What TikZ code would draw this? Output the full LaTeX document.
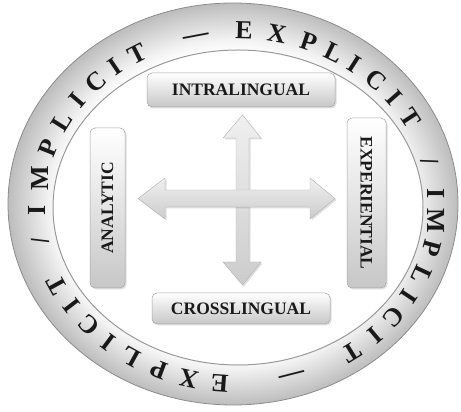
\documentclass[tikz,border=0pt]{standalone}
\usepackage{fontspec}
\setmainfont{Liberation Serif}
\usetikzlibrary{shadows}
\pgfdeclareradialshading{ringshade}{\pgfpoint{0bp}{0bp}}{color(0bp)=(white); color(19bp)=(white); color(20.5bp)=(black!5); color(25bp)=(black!26); color(50bp)=(black!26)}
\begin{document}
\begin{tikzpicture}[x=1pt,y=1pt,
  ringtxt/.style={font=\bfseries\fontsize{26}{28}\selectfont, inner sep=0pt, text height=17.2pt, text depth=0pt, anchor=center, text=black!90},
  labelbox/.style={draw=black!35, line width=0.5pt, rounded corners=5pt, top color=white, bottom color=black!22, inner sep=0pt, text=black!90,
    font=\bfseries\fontsize{17.5}{20}\selectfont, drop shadow={opacity=0.25, shadow xshift=1.5pt, shadow yshift=-1.5pt}},
  blockarrow/.style={draw=black!30, line width=0.4pt, top color=black!6, bottom color=black!20, line join=miter,
    drop shadow={opacity=0.25, shadow xshift=1.5pt, shadow yshift=-1.5pt}}]
\useasboundingbox (0,0) rectangle (461,412);
% ring
\path[shading=ringshade] (233,208) ellipse [x radius=225, y radius=201];
\draw[black!45, line width=0.8pt] (233,208) ellipse [x radius=225, y radius=201];
\fill[white] (238,204.5) ellipse [x radius=185, y radius=157.5];
\draw[black!40, line width=1pt] (238,204.5) ellipse [x radius=185, y radius=157.5];
% ring text
\foreach \ch/\t in {I/181, M/170.5, P/160.5, L/151, I/143, C/135, I/127.5, T/120, —/102, E/88, X/78.5, P/69, L/61, I/54, C/46, I/38, T/30, {/}/15, I/4.5, M/-4.5, P/-13.5, L/-22.5, I/-30.5, C/-38.5, I/-46.5, T/-55, —/-74, E/-95, X/-104, P/-113, L/-122, I/-130, C/-138, I/-146, T/-154, {/}/-169}{
  \pgfmathsetmacro\rot{atan2(sin(\t)/177,cos(\t)/200)-90}
  \node[ringtxt, rotate=\rot] at ({237+200*cos(\t)},{205+177*sin(\t)}) {\ch};
}
% arrows
\draw[blockarrow] (242.5,297) -- (261,274) -- (249,274) -- (249,150) -- (261,150) -- (242.5,127) -- (223,150) -- (236,150) -- (236,274) -- (223,274) -- cycle;
\draw[blockarrow] (138,213.5) -- (165,234) -- (165,222) -- (310,222) -- (310,234) -- (335,213.5) -- (310,193) -- (310,205) -- (165,205) -- (165,193) -- cycle;
% boxes
\node[labelbox, minimum width=188pt, minimum height=34pt] (intra) at (241,322) {INTRALINGUAL};
\node[labelbox, minimum width=178pt, minimum height=31pt] (cross) at (241,103.5) {CROSSLINGUAL};
\node[labelbox, rotate=90, minimum width=160pt, minimum height=35pt] (ana) at (107.5,204) {ANALYTIC};
\node[labelbox, rotate=-90, minimum width=170pt, minimum height=39pt] (exper) at (366.5,209) {EXPERIENTIAL};
\end{tikzpicture}
\end{document}
